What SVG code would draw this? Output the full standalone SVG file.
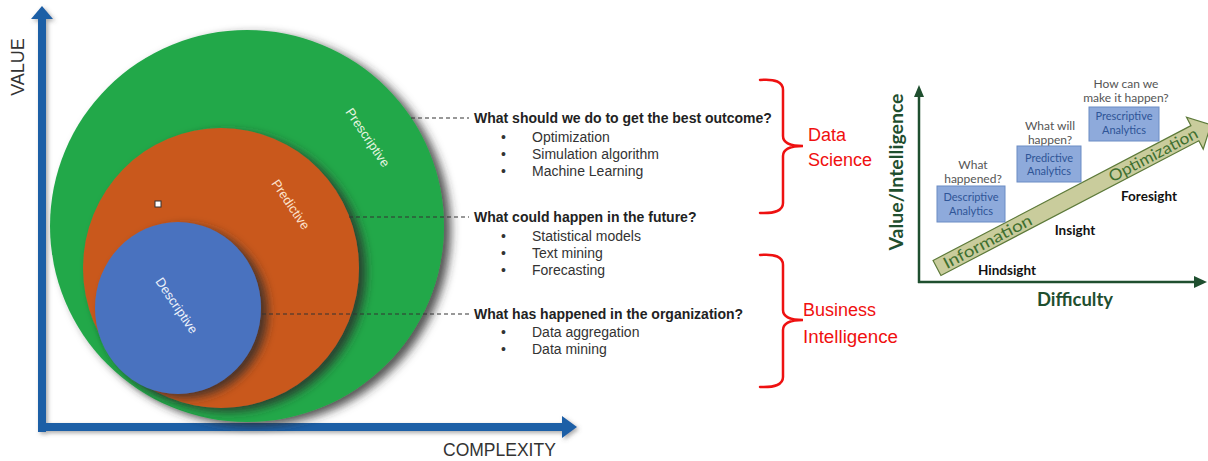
<svg xmlns="http://www.w3.org/2000/svg" width="1208" height="461" viewBox="0 0 1208 461">
<defs>
<filter id="sh" x="-20%" y="-20%" width="150%" height="150%">
<feDropShadow dx="7" dy="4" stdDeviation="5" flood-color="#2a2a2a" flood-opacity="0.8"/>
</filter>
<filter id="ash" x="-20%" y="-20%" width="150%" height="150%">
<feDropShadow dx="2" dy="2" stdDeviation="2" flood-color="#555" flood-opacity="0.5"/>
</filter>
<style>
.q{font-family:"Liberation Sans",Arial,sans-serif;font-size:14px;font-weight:bold;fill:#222}
.it{font-family:"Liberation Sans",Arial,sans-serif;font-size:14px;fill:#333}
.cl{font-family:"Liberation Sans",Arial,sans-serif;font-size:13px;text-anchor:middle}
.ax{font-family:"Liberation Sans",Arial,sans-serif;fill:#333}
.red{font-family:"Liberation Sans",Arial,sans-serif;font-size:18px;fill:#f01010}
.dash{stroke:#333;stroke-width:1.2;stroke-dasharray:4 3;fill:none}
.brace{stroke:#ee1111;stroke-width:2.5;fill:none;stroke-linecap:round}
.box{fill:#8eaadb;stroke:#6b8cc4;stroke-width:1}
.bt{font-family:Lato,"Open Sans",sans-serif;font-size:11px;fill:#2f5597;text-anchor:middle}
.qt{font-family:Lato,"Open Sans",sans-serif;font-size:12px;fill:#555;text-anchor:middle}
.st{font-family:Lato,"Open Sans",sans-serif;font-size:13.5px;font-weight:bold;fill:#111;text-anchor:middle}
.gx{font-family:Lato,"Open Sans",sans-serif;font-weight:bold;fill:#1f4f2f;text-anchor:middle}
.bandt{font-family:Lato,"Open Sans",sans-serif;font-size:16px;fill:#3f6f2f;text-anchor:middle}
</style>
</defs>
<rect width="1208" height="461" fill="#ffffff"/>

<g id="left-axes" filter="url(#ash)">
<rect x="38" y="16" width="8" height="416" fill="#1d5fa6"/>
<polygon points="31,19 42,6 53,19" fill="#1d5fa6"/>
<rect x="38" y="423" width="526" height="8" fill="#1d5fa6"/>
<polygon points="562,416 577,427 562,438" fill="#1d5fa6"/>
</g>
<text class="ax" font-size="18" transform="translate(24,67) rotate(-90)" text-anchor="middle">VALUE</text>
<text class="ax" font-size="17.5" x="443" y="456">COMPLEXITY</text>

<g id="prescriptive">
<ellipse cx="247" cy="226" rx="197" ry="196" fill="#21a84a" filter="url(#sh)"/>
<text class="cl" fill="#e6f6e0" transform="translate(364,140) rotate(56)">Prescriptive</text>
</g>
<g id="predictive">
<ellipse cx="221" cy="268" rx="138" ry="140" fill="#c9581f" filter="url(#sh)"/>
<text class="cl" fill="#fde2cc" transform="translate(287,207) rotate(56)">Predictive</text>
</g>
<g id="descriptive">
<ellipse cx="178" cy="308" rx="83" ry="86" fill="#4a72bf" filter="url(#sh)"/>
<text class="cl" fill="#eef2fb" transform="translate(173,308) rotate(56)">Descriptive</text>
</g>
<rect x="155" y="201" width="6" height="6" fill="#ffffff" stroke="#333" stroke-width="1"/>

<g id="connectors">
<line class="dash" x1="411" y1="118" x2="469" y2="118"/>
<line class="dash" x1="349" y1="217" x2="469" y2="217"/>
<line class="dash" x1="262" y1="314" x2="469" y2="314"/>
</g>

<g id="q-prescriptive">
<text class="q" x="474" y="123">What should we do to get the best outcome?</text>
<text class="it" x="501" y="142">•</text><text class="it" x="532" y="142">Optimization</text>
<text class="it" x="501" y="159">•</text><text class="it" x="532" y="159">Simulation algorithm</text>
<text class="it" x="501" y="176">•</text><text class="it" x="532" y="176">Machine Learning</text>
</g>
<g id="q-predictive">
<text class="q" x="474" y="222">What could happen in the future?</text>
<text class="it" x="501" y="241">•</text><text class="it" x="532" y="241">Statistical models</text>
<text class="it" x="501" y="258">•</text><text class="it" x="532" y="258">Text mining</text>
<text class="it" x="501" y="275">•</text><text class="it" x="532" y="275">Forecasting</text>
</g>
<g id="q-descriptive">
<text class="q" x="474" y="319">What has happened in the organization?</text>
<text class="it" x="501" y="337">•</text><text class="it" x="532" y="337">Data aggregation</text>
<text class="it" x="501" y="354">•</text><text class="it" x="532" y="354">Data mining</text>
</g>

<g id="brace-data-science">
<path class="brace" d="M760,80 Q783,78 783,90 L783,136 Q783,146 803,146 Q783,146 783,156 L783,203 Q783,214 760,213"/>
<text class="red" x="808" y="141">Data</text>
<text class="red" x="808" y="166">Science</text>
</g>
<g id="brace-bi">
<path class="brace" d="M760,255 Q783,253 783,265 L783,310 Q783,320 803,320 Q783,320 783,330 L783,377 Q783,388 760,387"/>
<text class="red" x="803" y="316">Business</text>
<text class="red" x="803" y="343" textLength="95" lengthAdjust="spacingAndGlyphs">Intelligence</text>
</g>

<g id="right-axes">
<line x1="919" y1="95" x2="919" y2="283" stroke="#1f4f2f" stroke-width="2.5"/>
<polygon points="914,97 919,85 924,97" fill="#1f4f2f"/>
<line x1="918" y1="282" x2="1196" y2="282" stroke="#1f4f2f" stroke-width="2.5"/>
<polygon points="1194,276 1207,282 1194,288" fill="#1f4f2f"/>
<text class="gx" font-size="18" transform="translate(903,172) rotate(-90)" textLength="157" lengthAdjust="spacingAndGlyphs">Value/Intelligence</text>
<text class="gx" font-size="19" x="1075" y="306" textLength="76" lengthAdjust="spacingAndGlyphs">Difficulty</text>
</g>

<g id="band-arrow" transform="translate(937,268) rotate(-27.6)">
<path d="M0,-8.5 L291,-8.5 L291,-18 L309,0 L291,18 L291,8.5 L0,8.5 Z" fill="#c9cc9c" stroke="#5d7a3a" stroke-width="1.2"/>
<text class="bandt" x="57" y="5.5" textLength="98" lengthAdjust="spacingAndGlyphs">Information</text>
<text class="bandt" x="244" y="5.5" textLength="98" lengthAdjust="spacingAndGlyphs">Optimization</text>
</g>

<g id="descriptive-analytics">
<text class="qt" x="973" y="169">What</text>
<text class="qt" x="973" y="183">happened?</text>
<rect class="box" x="937" y="186" width="68" height="36"/>
<text class="bt" x="971" y="201">Descriptive</text>
<text class="bt" x="971" y="215">Analytics</text>
</g>
<g id="predictive-analytics">
<text class="qt" x="1050" y="130">What will</text>
<text class="qt" x="1050" y="144">happen?</text>
<rect class="box" x="1017" y="146" width="64" height="36"/>
<text class="bt" x="1049" y="162">Predictive</text>
<text class="bt" x="1049" y="175">Analytics</text>
</g>
<g id="prescriptive-analytics">
<text class="qt" x="1126" y="88">How can we</text>
<text class="qt" x="1126" y="102">make it happen?</text>
<rect class="box" x="1089" y="107" width="70" height="34"/>
<text class="bt" x="1124" y="120">Prescriptive</text>
<text class="bt" x="1124" y="134">Analytics</text>
</g>

<g id="stages">
<text class="st" x="1149" y="201">Foresight</text>
<text class="st" x="1075" y="235">Insight</text>
<text class="st" x="1007" y="275">Hindsight</text>
</g>
</svg>
